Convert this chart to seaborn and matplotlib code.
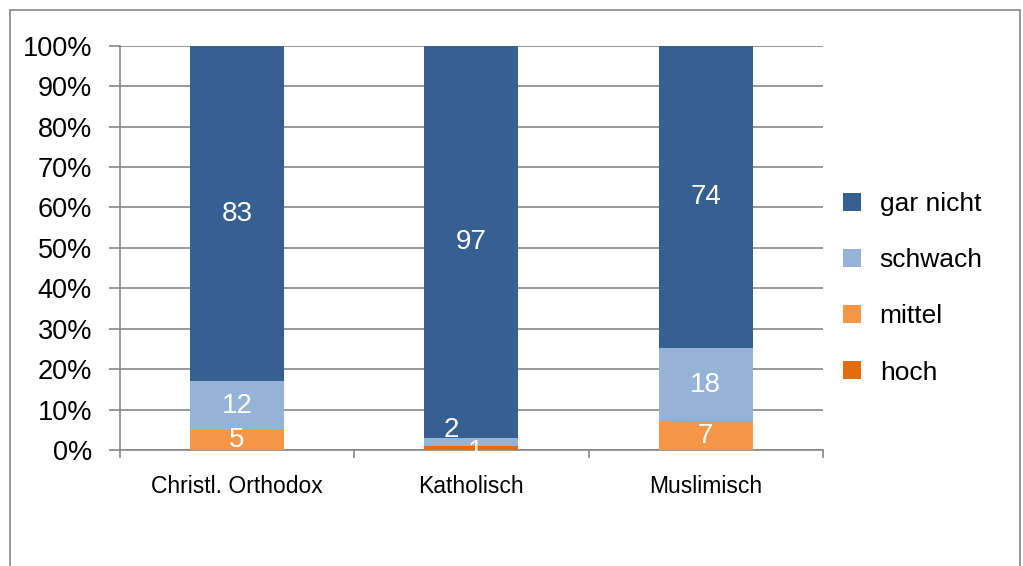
import numpy as np
import pandas as pd
import matplotlib.pyplot as plt
import seaborn as sns
from matplotlib.patches import Rectangle

# Data (percent shares per group)
groups = ['Christl. Orthodox', 'Katholisch', 'Muslimisch']
hoch = [0, 1, 0]
mittel = [5, 0, 7]
schwach = [12, 2, 18]
gar_nicht = [83, 97, 74]
series_names = ['hoch', 'mittel', 'schwach', 'gar nicht']
colors = {'gar nicht': '#376092', 'schwach': '#95B3D7',
          'mittel': '#F79646', 'hoch': '#E46C0A'}

df = pd.DataFrame({'group': groups, 'hoch': hoch, 'mittel': mittel,
                   'schwach': schwach, 'gar nicht': gar_nicht})
totals = df[series_names].sum(axis=1)
for s in series_names:
    df[s + '_pct'] = df[s] / totals * 100
cum = df[[s + '_pct' for s in series_names]].cumsum(axis=1)
cum.columns = series_names
df = pd.concat([df[['group']], cum.add_suffix('_cum'), df[series_names]], axis=1)

sns.set_style('white')
plt.rcParams['font.family'] = ['Liberation Sans', 'DejaVu Sans']

fig = plt.figure(figsize=(10.23, 5.66), dpi=100)
ax = fig.add_axes([0.117, 0.205, 0.6875, 0.714])

# stacked bars: draw cumulative totals from the top series down
for s in reversed(series_names):
    sns.barplot(data=df, x='group', y=s + '_cum', color=colors[s],
                width=0.4, saturation=1, ax=ax, label=s, zorder=3,
                linewidth=0)

# value labels
prev = np.zeros(len(groups))
for s in series_names:
    top = df[s + '_cum'].values
    for i, v in enumerate(df[s].values):
        if v <= 0:
            continue
        yc = (prev[i] + top[i]) / 2
        xc = i
        if top[i] - prev[i] < 3:
            if s == 'schwach':
                xc, yc = i - 0.085, yc + 3
            else:
                xc, yc = i + 0.02, yc - 1
        ax.text(xc, yc, f'{v:g}', ha='center', va='center', color='white',
                fontsize=20, zorder=5)
    prev = top

ax.set_ylim(0, 100)
ax.set_xlim(-0.5, 2.5)
ax.set_yticks(np.arange(0, 101, 10))
ax.set_yticklabels([f'{t}%' for t in range(0, 101, 10)], fontsize=19.5,
                   color='black')
ax.set_xlabel('')
ax.set_ylabel('')
ax.tick_params(axis='x', which='major', length=0, labelsize=16.5, pad=18,
               labelcolor='black')
ax.set_xticks([-0.5, 0.5, 1.5, 2.5], minor=True)
ax.tick_params(axis='x', which='minor', length=6, color='#888888', width=1.2,
               direction='out', bottom=True)
ax.tick_params(axis='y', length=8, color='#888888', width=1.2, direction='out',
               left=True, pad=12)
ax.grid(axis='y', color='#888888', linewidth=1.2, zorder=0)
ax.set_axisbelow(True)
for side in ['top', 'right']:
    ax.spines[side].set_visible(False)
for side in ['left', 'bottom']:
    ax.spines[side].set_color('#888888')
    ax.spines[side].set_linewidth(1.2)

handles, labels = ax.get_legend_handles_labels()
order = ['gar nicht', 'schwach', 'mittel', 'hoch']
hmap = dict(zip(labels, handles))
leg = ax.legend([hmap[o] for o in order], order, loc='center left',
                bbox_to_anchor=(0.995, 0.4), frameon=False, fontsize=19,
                handlelength=0.68, handleheight=0.68, labelspacing=1.22,
                handletextpad=0.7)
for t in leg.get_texts():
    t.set_color('black')

# outer chart frame
fig.patches.append(Rectangle((10 / 1023, -0.01), 1010 / 1023, 1 - 10 / 566 + 0.01,
                             transform=fig.transFigure, fill=False,
                             edgecolor='#888888', linewidth=1.2))

fig.savefig('out.png', dpi=100)
